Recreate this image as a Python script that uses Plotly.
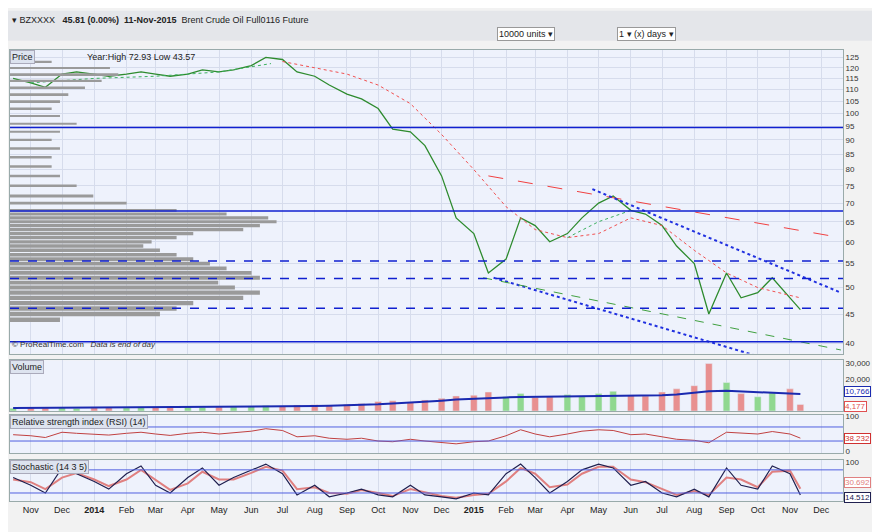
import pandas as pd
import plotly.graph_objects as go

# semi-monthly samples
dates = ["2013-10-15", "2013-11-01", "2013-11-15", "2013-12-01", "2013-12-15"]
for yr in (2014, 2015):
    for m in range(1, 13):
        if yr == 2015 and m > 10:
            break
        dates += [f"{yr}-{m:02d}-01", f"{yr}-{m:02d}-15"]
dates += ["2015-11-01", "2015-11-11"]

price = [115, 113, 111, 117, 118,
         117, 116, 117, 118, 117, 116, 117, 119, 118, 119, 121, 125, 124, 118,
         116, 112, 108, 106, 102, 94, 93, 88, 78, 66,
         62, 53, 56, 66, 64, 60, 62, 66, 70, 72, 68, 67, 64, 59, 55, 45,
         53, 48, 49, 52, 48, 45.81]

volume = [1800, 2000, 1900, 2200, 1700,
          2100, 2300, 2000, 2500, 2400, 2200, 2600, 2300, 2500, 2800, 3000, 3500, 3200, 3800,
          4000, 3600, 4200, 4800, 6000, 6500, 5500, 7000, 8000, 9500,
          10000, 12000, 9000, 11000, 8500, 9000, 10500, 9500, 11000, 12500, 10000, 9500,
          12000, 14000, 16000, 30000, 18000, 11000, 9000, 12000, 14000, 4177]
volume_ma = [1900, 1950, 2000, 2000, 2050,
             2100, 2100, 2150, 2200, 2250, 2300, 2350, 2400, 2450, 2500, 2600, 2700, 2800, 2950,
             3100, 3300, 3500, 3800, 4200, 4700, 5200, 5800, 6500, 7200,
             7800, 8300, 8600, 8800, 8900, 9000, 9100, 9200, 9300, 9400, 9500, 9600,
             9900, 10500, 11500, 12500, 12800, 12400, 11800, 11300, 11000, 10766]
rsi = [48, 45, 40, 55, 52,
       50, 47, 52, 55, 50, 46, 52, 55, 50, 53, 58, 65, 60, 42,
       45, 38, 35, 38, 30, 28, 35, 30, 25, 22,
       28, 30, 45, 62, 50, 42, 50, 58, 62, 60, 48, 50, 42, 35, 32, 25,
       55, 52, 50, 57, 50, 38.232]
stoch = [60, 40, 20, 85, 70,
         50, 30, 70, 90, 40, 20, 60, 85, 40, 60, 80, 95, 70, 15,
         40, 10, 20, 30, 15, 10, 40, 15, 10, 5,
         20, 15, 70, 95, 60, 20, 50, 80, 95, 85, 40, 50, 20, 10, 30, 10,
         85, 40, 30, 90, 70, 14.512]
stoch_sig = [55, 48, 30, 60, 72,
             55, 38, 55, 80, 55, 28, 45, 75, 55, 55, 72, 88, 78, 30,
             35, 20, 18, 28, 20, 12, 30, 22, 12, 8,
             15, 18, 50, 85, 70, 35, 42, 70, 88, 88, 55, 48, 30, 15, 25, 15,
             60, 55, 35, 75, 78, 30.69]

ma_red_dates = ["2014-07-01", "2014-08-01", "2014-09-01", "2014-10-01", "2014-11-01",
                "2014-12-01", "2015-01-01", "2015-02-01", "2015-03-01", "2015-04-01",
                "2015-05-01", "2015-06-01", "2015-07-01", "2015-08-01", "2015-09-01",
                "2015-10-01", "2015-11-11"]
ma_red = [123, 120, 117, 112, 104, 92, 80, 69, 63, 61, 62, 66, 64, 58, 53, 50, 48]
ma_green_dates = ["2013-11-01", "2014-01-01", "2014-03-01", "2014-05-01", "2014-06-20",
                  "2015-04-01", "2015-05-01", "2015-06-01"]
ma_green = [113, 115, 116, 118, 122, 61, 65, 68]

levels = [94.55, 67.84, 55.61, 51.84, 46.04, 40.31]
level_dash = ["solid", "solid", "dash", "dash", "dash", "solid"]

prof_price = [44, 45, 46, 47, 48, 49, 50, 51, 52, 53, 54, 55, 56, 57, 58, 59, 60, 61, 62,
              63, 64, 65, 66, 67, 68, 70, 72, 75, 78, 81, 84, 87, 90, 93, 96, 99, 102,
              105, 108, 111, 114, 117, 120, 123]
prof_len = [0.06, 0.18, 0.2, 0.22, 0.28, 0.3, 0.27, 0.25, 0.3, 0.29, 0.26, 0.24, 0.22,
            0.2, 0.18, 0.16, 0.17, 0.2, 0.22, 0.28, 0.3, 0.32, 0.31, 0.26, 0.2, 0.14,
            0.1, 0.08, 0.06, 0.05, 0.05, 0.06, 0.05, 0.06, 0.08, 0.06, 0.05, 0.06, 0.07,
            0.09, 0.11, 0.13, 0.12, 0.05]

tick_vals = ["2013-11-01", "2013-12-01", "2014-01-01", "2014-02-01", "2014-03-01",
             "2014-04-01", "2014-05-01", "2014-06-01", "2014-07-01", "2014-08-01",
             "2014-09-01", "2014-10-01", "2014-11-01", "2014-12-01", "2015-01-01",
             "2015-02-01", "2015-03-01", "2015-04-01", "2015-05-01", "2015-06-01",
             "2015-07-01", "2015-08-01", "2015-09-01", "2015-10-01", "2015-11-01",
             "2015-12-01"]
tick_text = ["Nov", "Dec", "<b>2014</b>", "Feb", "Mar", "Apr", "May", "Jun", "Jul", "Aug",
             "Sep", "Oct", "Nov", "Dec", "<b>2015</b>", "Feb", "Mar", "Apr", "May", "Jun",
             "Jul", "Aug", "Sep", "Oct", "Nov", "Dec"]
price_ticks = [40, 45, 50, 55, 60, 65, 70, 75, 80, 85, 90, 95, 100, 105, 110, 115, 120, 125]

fig = go.Figure()
# volume profile
fig.add_trace(go.Bar(y=prof_price, x=prof_len, orientation="h", xaxis="x5", yaxis="y",
                     marker_color="#9a9a9a", marker_line_width=0, width=0.8, showlegend=False))
fig.add_trace(go.Scatter(x=dates, y=price, mode="lines", line=dict(color="#2e8b2e", width=1.3),
                         showlegend=False))
fig.add_trace(go.Scatter(x=ma_red_dates, y=ma_red, mode="lines",
                         line=dict(color="#f05050", width=1, dash="dot"), showlegend=False))
fig.add_trace(go.Scatter(x=ma_green_dates[:5], y=ma_green[:5], mode="lines",
                         line=dict(color="#3cb060", width=1, dash="dot"), showlegend=False))
fig.add_trace(go.Scatter(x=ma_green_dates[5:], y=ma_green[5:], mode="lines",
                         line=dict(color="#3cb060", width=1, dash="dot"), showlegend=False))
# trend lines
fig.add_trace(go.Scatter(x=["2015-01-15", "2015-12-20"], y=[78, 61], mode="lines",
                         line=dict(color="#f04040", width=1, dash="longdash"), showlegend=False))
fig.add_trace(go.Scatter(x=["2015-04-25", "2015-12-20"], y=[74, 49], mode="lines",
                         line=dict(color="#2030e0", width=2, dash="dot"), showlegend=False))
fig.add_trace(go.Scatter(x=["2015-01-20", "2015-11-15"], y=[52, 36], mode="lines",
                         line=dict(color="#2030e0", width=2, dash="dot"), showlegend=False))
fig.add_trace(go.Scatter(x=["2015-01-10", "2015-12-20"], y=[52, 39], mode="lines",
                         line=dict(color="#40a040", width=1, dash="dash"), showlegend=False))

vol_col = ["#e89090" if i and price[i] < price[i - 1] else "#90d890" for i in range(len(price))]
fig.add_trace(go.Bar(x=dates, y=volume, marker_color=vol_col, xaxis="x2", yaxis="y2",
                     showlegend=False))
fig.add_trace(go.Scatter(x=dates, y=volume_ma, mode="lines", line=dict(color="#1a2ab0", width=2),
                         xaxis="x2", yaxis="y2", showlegend=False))
fig.add_trace(go.Scatter(x=dates, y=rsi, mode="lines", line=dict(color="#c04040", width=1),
                         xaxis="x3", yaxis="y3", showlegend=False))
fig.add_trace(go.Scatter(x=dates, y=stoch_sig, mode="lines", line=dict(color="#e08080", width=2),
                         xaxis="x4", yaxis="y4", showlegend=False))
fig.add_trace(go.Scatter(x=dates, y=stoch, mode="lines", line=dict(color="#202050", width=1.2),
                         xaxis="x4", yaxis="y4", showlegend=False))

xr = ["2013-10-12", "2015-12-22"]
grid = "#d6dcec"
base_x = dict(range=xr, type="date", showgrid=True, gridcolor=grid, tickvals=tick_vals,
              ticktext=tick_text, showticklabels=False, zeroline=False, showline=True,
              linecolor="#9aa", mirror=True)
base_y = dict(side="right", showgrid=True, gridcolor=grid, zeroline=False, showline=True,
              linecolor="#9aa", mirror=True, tickfont=dict(size=8, color="#333"))
fig.update_layout(
    width=880, height=532, margin=dict(l=2, r=45, t=35, b=37),
    paper_bgcolor="#f2f2f2", plot_bgcolor="#eef2fc", bargap=0.35,
    font=dict(family="Liberation Sans, Arial", size=9, color="#222"),
    xaxis=dict(base_x, domain=[0, 1], anchor="y"),
    xaxis2=dict(base_x, anchor="y2", matches="x"),
    xaxis3=dict(base_x, anchor="y3", matches="x"),
    xaxis4=dict(base_x, anchor="y4", matches="x", showticklabels=True,
                tickfont=dict(size=9)),
    xaxis5=dict(overlaying="x", range=[0, 1], visible=False),
    yaxis=dict(base_y, domain=[0.325, 0.985], type="log", range=[1.585, 2.11],
               tickvals=price_ticks),
    yaxis2=dict(base_y, domain=[0.2, 0.31], range=[0, 32000],
                tickvals=[20000, 30000], tickformat=",", showgrid=False),
    yaxis3=dict(base_y, domain=[0.108, 0.192], range=[-5, 105], tickvals=[0, 100],
                showgrid=False),
    yaxis4=dict(base_y, domain=[0.005, 0.093], range=[0, 105], tickvals=[100],
                showgrid=False),
)
for lv, d in zip(levels, level_dash):
    fig.add_shape(type="line", xref="x domain", yref="y", x0=0, x1=1, y0=lv, y1=lv,
                  line=dict(color="#1020d0", width=1.5, dash=d))
    fig.add_annotation(x=1, xref="x domain", y=lv, yref="y", text=f"{lv:.2f}", showarrow=False,
                       xanchor="right", yanchor="bottom", font=dict(size=8))
for yv, yr_ in [(70, "y3"), (30, "y3"), (80, "y4"), (20, "y4")]:
    fig.add_shape(type="line", xref="x domain", yref=yr_, x0=0, x1=1, y0=yv, y1=yv,
                  line=dict(color="#5060e0", width=1))

boxes = [("45.81", 45.81, "y", "#e8a020", 0), ("10,766", 10766, "y2", "#1a2ab0", 2),
         ("4,177", 4177, "y2", "#e05050", -2), ("38.232", 38.232, "y3", "#d03030", 0),
         ("30.692", 30.69, "y4", "#e08080", 6), ("14.512", 14.512, "y4", "#202050", -2)]
for txt, yv, yr_, col, ys in boxes:
    fig.add_annotation(x=1, xref="paper", y=yv, yref=yr_, text=txt, showarrow=False,
                       xanchor="left", xshift=1, yshift=ys, font=dict(size=8, color=col),
                       bgcolor="white", bordercolor=col, borderwidth=1, borderpad=0)

titles = [("Price", 0.985), ("Volume", 0.31), ("Relative strength index (RSI) (14)", 0.192),
          ("Stochastic (14 3 5)", 0.093)]
for t, yy in titles:
    fig.add_annotation(x=0, xref="paper", y=yy, yref="paper", text=t, showarrow=False,
                       xanchor="left", yanchor="top", font=dict(size=9),
                       bgcolor="#dde3ef", bordercolor="#aab", borderwidth=1)
fig.add_annotation(x=0.09, xref="paper", y=0.985, yref="paper", text="Year:High 72.93 Low 43.57",
                   showarrow=False, xanchor="left", yanchor="top", font=dict(size=9))
fig.add_annotation(x=0, xref="paper", y=0.33, yref="paper",
                   text="© ProRealTime.com   <i>Data is end of day</i>", showarrow=False,
                   xanchor="left", yanchor="bottom", font=dict(size=8, color="#333"))
fig.add_shape(type="rect", xref="paper", yref="paper", x0=-0.01, x1=1.06, y0=1.005, y1=1.07,
              fillcolor="#e4e6ea", line=dict(width=0))
fig.add_annotation(x=0, xref="paper", y=1.066, yref="paper", yanchor="top", xanchor="left",
                   text="▾ BZXXXX   <b>45.81 (0.00%)  11-Nov-2015</b>  Brent Crude Oil Full0116 Future",
                   showarrow=False, font=dict(size=9))
fig.add_annotation(x=0.62, xref="paper", y=1.035, yref="paper", text="10000 units ▾",
                   showarrow=False, bgcolor="white", bordercolor="#999", font=dict(size=9))
fig.add_annotation(x=0.8, xref="paper", y=1.035, yref="paper", text="1 ▾ (x) days ▾",
                   showarrow=False, bgcolor="white", bordercolor="#999", font=dict(size=9))

fig.write_html("out.html")
